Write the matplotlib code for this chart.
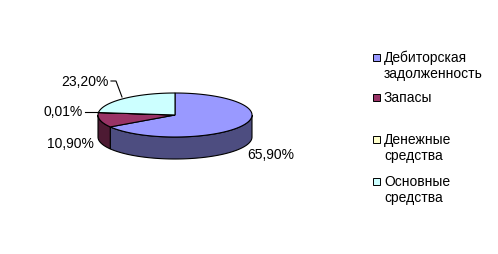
import numpy as np
import matplotlib
matplotlib.use("Agg")
import matplotlib.pyplot as plt
from matplotlib.patches import Polygon, Rectangle

# ---- data ----
categories = ["Дебиторская\nзадолженность", "Запасы", "Денежные\nсредства", "Основные\nсредства"]
values = [65.9, 10.9, 0.01, 23.2]
value_labels = ["65,90%", "10,90%", "0,01%", "23,20%"]

top_colors = ["#9999FF", "#993366", "#FFFFCC", "#CCFFFF"]
side_colors = ["#4D4D80", "#4D1A33", "#80806A", "#668080"]

W, H = 498, 255
fig = plt.figure(figsize=(W / 100, H / 100), dpi=100)
ax = fig.add_axes([0, 0, 1, 1])
ax.set_xlim(0, W)
ax.set_ylim(H, 0)
ax.axis("off")

FONT = "Liberation Sans"
FS = 10

# pie geometry (layout)
cx, cy = 175, 116
a, b = 77, 22
depth = 22

def pt(theta_deg, dy=0.0):
    t = np.radians(theta_deg)
    return cx + a * np.cos(t), cy - b * np.sin(t) + dy

total = sum(values)
start = 90.0
slices = []
for v in values:
    end = start - v / total * 360.0
    slices.append((end, start))  # ccw from end to start
    start = end

# sides (front half: angles in [-180, 0])
for (t0, t1), sc in zip(slices, side_colors):
    lo = max(t0, -180.0)
    hi = min(t1, 0.0)
    # handle wrap: slices ending beyond -180 might also be in [-360,-180] -> not visible
    if hi > lo:
        ts = np.linspace(lo, hi, 80)
        top = [pt(t) for t in ts]
        bot = [pt(t, depth) for t in ts[::-1]]
        ax.add_patch(Polygon(top + bot, closed=True, facecolor=sc,
                             edgecolor="black", linewidth=0.8, zorder=1))

# tops
for (t0, t1), tc in zip(slices, top_colors):
    n = max(3, int((t1 - t0) / 1.0) + 2)
    ts = np.linspace(t0, t1, n)
    poly = [(cx, cy)] + [pt(t) for t in ts]
    ax.add_patch(Polygon(poly, closed=True, facecolor=tc,
                         edgecolor="black", linewidth=0.8, zorder=2))

# value labels (layout positions)
label_pos = [(271, 155), (70, 144), (63, 112), (85, 82)]
for txt, (x, y) in zip(value_labels, label_pos):
    ax.text(x, y, txt, ha="center", va="center", fontsize=FS, family=FONT, zorder=3)

# leader lines
ax.plot([85, 98], [113, 113], color="black", lw=0.8, zorder=3)
ax.plot([111, 116, 122], [82, 82, 98], color="black", lw=0.8, zorder=3)

# legend
leg_x_sq = 373
leg_x_txt = 384
leg_y = [58, 98, 140, 182]
line_h = 16
for lab, col, y in zip(categories, top_colors, leg_y):
    ax.add_patch(Rectangle((leg_x_sq, y - 3), 6.5, 6.5, facecolor=col,
                           edgecolor="black", linewidth=0.7, zorder=3))
    for i, line in enumerate(lab.split("\n")):
        ax.text(leg_x_txt, y + i * line_h, line, ha="left", va="center",
                fontsize=FS, family=FONT, zorder=3)

fig.savefig("out.png", dpi=100)
